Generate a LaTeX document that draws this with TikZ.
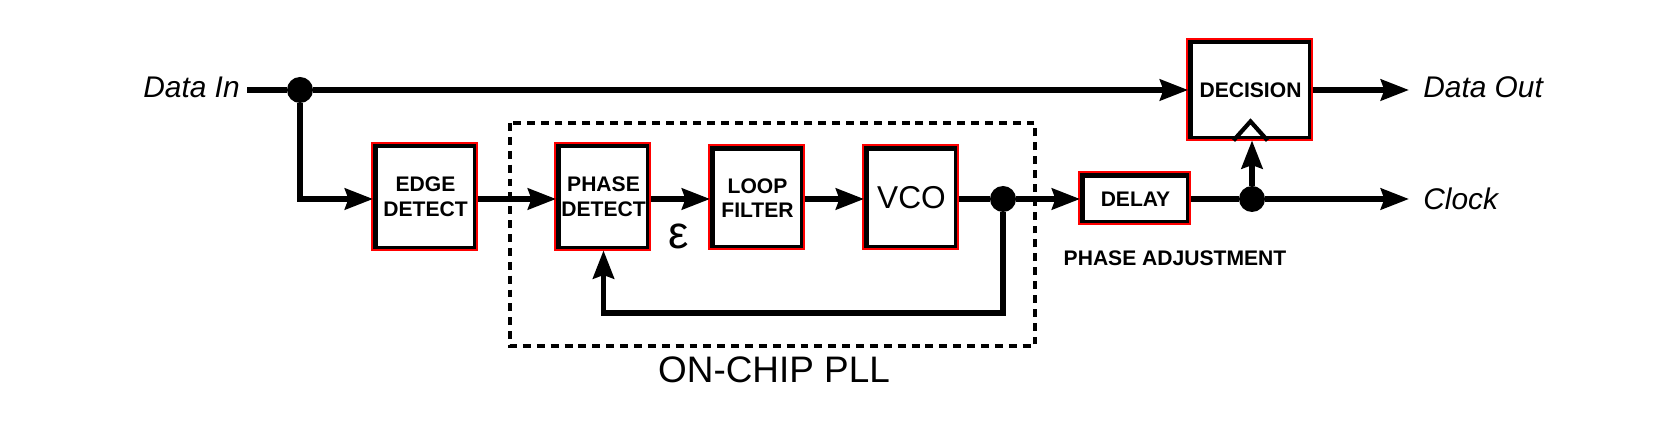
\documentclass[tikz,border=0pt]{standalone}
\usepackage{fontspec}
\setmainfont{Liberation Sans}
\usetikzlibrary{arrows.meta}

\begin{document}
\begin{tikzpicture}[x=0.02cm, y=-0.02cm,
  wire/.style={line width=3.1pt},
  sig/.style={wire, -{Stealth[length=16pt, width=12pt, inset=2pt]}},
  blk/.style={draw, line width=2.8pt, fill=white, inner sep=0pt, align=center,
    font=\bfseries\fontsize{12}{14}\selectfont},
  dot/.style={circle, fill, inner sep=0pt, minimum size=0.52cm},
  lbl/.style={font=\itshape\fontsize{17}{19}\selectfont, inner sep=0pt},
  caption/.style={font=\bfseries\fontsize{12}{14}\selectfont, inner sep=0pt}]
\useasboundingbox (0,0) rectangle (1676,421);
% PLL border
%-----------------------------------------------------------%
\draw[line width=2.6pt, dash pattern=on 4.5pt off 3.4pt]
  (510,123) rectangle (1035,346);
\node (pllname) at (774,370) {\fontsize{21}{24}\selectfont ON-CHIP PLL};
% Blocks
%-----------------------------------------------------------%
\node[blk, minimum width=2.0cm, minimum height=2.04cm] (edge) at (425.5,197) {EDGE\\DETECT};
\node[blk, minimum width=1.8cm, minimum height=2.04cm] (phase) at (603.5,197) {PHASE\\DETECT};
\node[blk, minimum width=1.8cm, minimum height=1.98cm] (loop) at (757.5,198) {LOOP\\FILTER};
\node[blk, minimum width=1.8cm, minimum height=1.98cm, font=\fontsize{18}{20}\selectfont] (vco) at (911.5,198) {VCO};
\node[blk, minimum width=2.12cm, minimum height=0.94cm] (delay) at (1135.5,199) {DELAY};
\node[blk, minimum width=2.4cm, minimum height=1.92cm] (decision) at (1250.5,90) {DECISION};
% red inner outline of the blocks
\foreach \n in {edge,phase,loop,vco,delay,decision}
  {\draw[red, line width=1pt] ([shift={(-0.6pt,0.4pt)}]\n.north west) rectangle ([shift={(-0.6pt,0.4pt)}]\n.south east);}
% clock mark of the decision block
\draw[line width=2.4pt, line join=miter] ([xshift=-17*0.02cm]decision.south) -- ++(17,-19) -- ++(17,19);
% Terminals and branch points
%-----------------------------------------------------------%
\node[lbl, anchor=east] (datain) at (240,87) {Data In};
\node[lbl, anchor=west] (dataout) at (1423,87) {Data Out};
\node[lbl, anchor=west] (clock) at (1423,199) {Clock};
\node[dot] (split1) at (300,90) {};
\node[dot] (split2) at (1003,199) {};
\node[dot] (split3) at (1252,199) {};
\coordinate (fb) at (1003,313);
% Connections
%-----------------------------------------------------------%
\draw[wire] ([xshift=4pt]datain.east |- split1) -- (split1);
\draw[sig] (split1) -- (decision.west |- split1);
\draw[sig] (split1) |- (edge.west |- split2);
\draw[sig] (edge.east |- split2) -- (phase.west |- split2);
\draw[sig] (phase.east |- split2) -- (loop.west |- split2);
\draw[sig] (loop.east |- split2) -- (vco.west |- split2);
\draw[wire] (vco.east |- split2) -- (split2);
\draw[sig] (split2) -- (delay.west |- split2);
\draw[sig] (split2) -- (fb) -| (phase.south);
\draw[wire] (delay.east |- split3) -- (split3);
\draw[sig] (split3) -- ([xshift=-8pt]clock.west |- split3);
\draw[sig] (split3) -- (split3 |- decision.south);
\draw[sig] (decision.east |- split1) -- ([xshift=-8pt]dataout.west |- split1);
% Labels
\node (eps) at (679,236) {\fontsize{26}{28}\selectfont ε};
\node[caption] (adjust) at (1175,258) {PHASE ADJUSTMENT};
\end{tikzpicture}
\end{document}
